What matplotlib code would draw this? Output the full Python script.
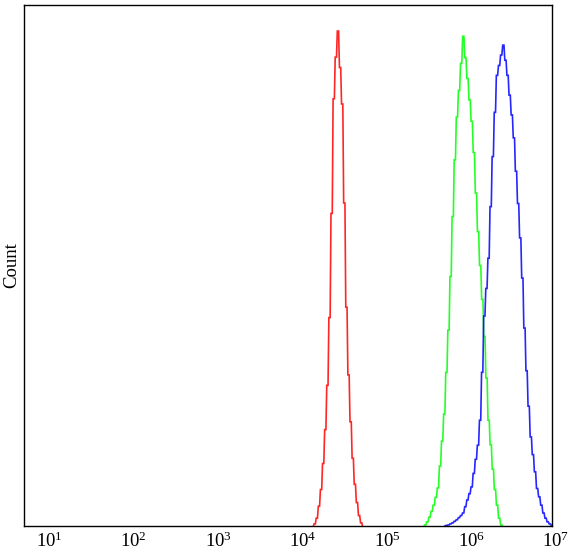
import numpy as np
import matplotlib
matplotlib.use("Agg")
import matplotlib.pyplot as plt
from matplotlib.transforms import ScaledTranslation
from matplotlib.ticker import NullFormatter

plt.rcParams['font.family'] = ['Liberation Serif', 'DejaVu Serif']

# histogram channels: 0.025 decade wide, counts as % of full scale
bin_width = 0.025

red_start = 4.192
red_counts = [0.4, 1.5, 3.8, 7.0, 12.0, 18.5, 27, 40, 60, 82, 90, 95,
              88, 81, 62, 42, 29, 20, 13, 8, 4.5, 2, 0.6]

green_start = 5.500
green_counts = [0.2, 0.8, 1.7, 2.8, 4.0, 5.5, 7.3, 11.5, 16.3, 21.5, 29.5, 37.6,
                47.9, 59.4, 70.3, 78.5, 83.6, 88.8, 94,
                89.9, 85.9, 81.8, 77.7, 71.7, 63.9, 56.5, 50, 43.5, 36.4, 28.4,
                20.3, 15.6, 10.9, 7, 4, 1.5, 0.2]

blue_start = 5.749
blue_counts = [0.1, 0.2, 0.4, 0.6, 0.9, 1.2, 1.6, 2.0, 2.5, 3.7, 5, 6.2, 7.5,
               10.1, 12.8, 15.5, 20.3, 29.5, 40.3, 45.6, 51.4, 61.3, 70.9,
               79.4, 86.5, 88.4, 90.4, 92.3,
               89.4, 86.5, 82.7, 78.9, 74.5, 68.1, 61.9, 55.3, 47.6, 38, 29.8,
               23, 17.1, 13.7, 10.4, 7.2, 5.6, 4, 2.5, 1.5, 0.8, 0.4, 0.1]

tick_labels = ['$\\mathregular{10^{%d}}$' % k for k in range(1, 8)]


def step_line(start, counts):
    # fine step outline: each channel drawn as a short flat run plus a riser
    n = len(counts)
    centers = start + bin_width * np.arange(n)
    xs, ys = [], []
    for c, v in zip(centers, counts):
        xs += [c - bin_width * 0.3, c + bin_width * 0.3]
        ys += [v, v]
    xs = [centers[0] - bin_width * 0.6] + xs + [centers[-1] + bin_width * 0.6]
    ys = [0] + ys + [0]
    return 10 ** np.array(xs), np.array(ys)


fig = plt.figure(figsize=(5.72, 5.52), dpi=100)
ax = fig.add_axes([24 / 572, 26 / 552, 528 / 572, 521 / 552])

for start, counts, col in [(red_start, red_counts, '#ff0000'),
                           (green_start, green_counts, '#00ff00'),
                           (blue_start, blue_counts, '#0000ff')]:
    x, y = step_line(start, counts)
    ax.plot(x, y, color=col, lw=1.2, alpha=0.85, solid_joinstyle='miter')

ax.set_xscale('log')
ax.set_xlim(10 ** 0.7515, 10 ** 7)
ax.set_ylim(0, 100)
ax.set_xticks([10.0 ** k for k in range(1, 8)])
ax.set_xticklabels(tick_labels, fontsize=13.5)
ax.xaxis.set_minor_formatter(NullFormatter())
ax.tick_params(axis='both', which='both', length=0, pad=4)
ax.set_yticks([])
for lbl in ax.get_xticklabels():
    lbl.set_transform(lbl.get_transform() + ScaledTranslation(0.04, 0, fig.dpi_scale_trans))

ax.set_ylabel('Count', fontsize=13.5, labelpad=3)
for s in ax.spines.values():
    s.set_linewidth(1.0)

fig.savefig('out.png', dpi=100)
